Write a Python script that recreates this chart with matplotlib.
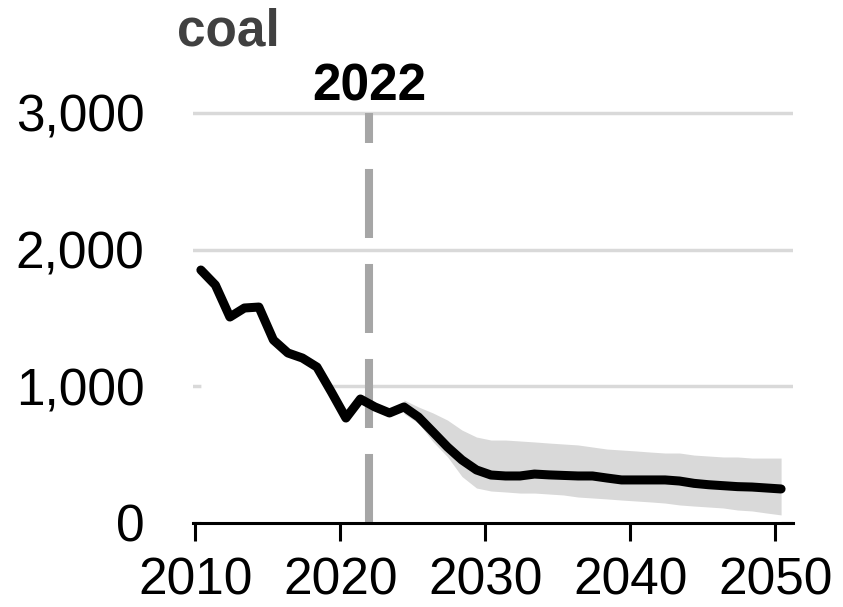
import matplotlib
matplotlib.use("Agg")
import matplotlib.pyplot as plt
import numpy as np

plt.rcParams["font.family"] = ["Liberation Sans", "DejaVu Sans"]

# coal, historical + projection (median) with a range band
years = list(range(2010, 2051))
coal = [1851, 1741, 1507, 1573, 1580, 1339, 1244, 1207, 1141, 958,
        768, 907, 849, 805, 849, 775, 666, 556, 461, 388,
        351, 344, 344, 358, 352, 348, 344, 344, 329, 315,
        315, 315, 315, 307, 290, 280, 273, 266, 263, 256,
        249]

band_years = list(range(2024, 2051))
band_high = [900, 849, 805, 753, 680, 629, 607, 607, 600, 593,
             585, 578, 571, 556, 541, 534, 527, 519, 512, 512,
             497, 490, 483, 483, 475, 475, 475]
band_low = [800, 730, 595, 485, 340, 256, 234, 227, 219, 219,
            212, 205, 190, 183, 176, 168, 161, 154, 146, 132,
            124, 117, 110, 95, 88, 73, 59]

x_ticks = [2010, 2020, 2030, 2040, 2050]
y_ticks = [0, 1000, 2000, 3000]
marker_year = 2022

# values sit a bit right of the year tick in the source chart
x_shift = 0.4

fig = plt.figure(figsize=(8.43, 6.07), dpi=100)
ax = fig.add_axes([0.229, 0.1384, 0.712, 0.698])

x = np.array(years) + x_shift
bx = np.array(band_years) + x_shift

ax.fill_between(x, 0, coal, color="white", zorder=1.5, linewidth=0)
ax.fill_between(bx, band_low, band_high, color="#d9d9d9", linewidth=0, zorder=2)
ax.plot([marker_year, marker_year], [0, 3000], color="#a6a6a6", lw=5.8,
        dashes=(49.7 / 5.8, 18.7 / 5.8), solid_capstyle="butt", zorder=3)
ax.plot(x, coal, color="black", lw=6.5, solid_capstyle="round",
        solid_joinstyle="round", zorder=4)

ax.text(marker_year, 3094, str(marker_year), ha="center", va="baseline",
        fontsize=37, fontweight="bold", color="black", clip_on=False)
fig.text(177 / 843, 1 - 46 / 607, "coal", ha="left", va="baseline",
         fontsize=37, fontweight="bold", color="#404040")

ax.set_xlim(2009.86, 2051.24)
ax.set_ylim(0, 3100)
ax.set_xticks(x_ticks)
ax.set_yticks(y_ticks)
ax.set_yticklabels([f"{v:,}" for v in y_ticks])

ax.yaxis.grid(True, color="#d9d9d9", lw=2.5)
ax.set_axisbelow(True)
for side in ["top", "right", "left"]:
    ax.spines[side].set_visible(False)
ax.spines["bottom"].set_linewidth(2.2)
ax.spines["bottom"].set_zorder(5)
ax.tick_params(axis="x", length=13, width=2.2, pad=11, labelsize=37)
ax.tick_params(axis="y", length=0, pad=35, labelsize=37)

fig.savefig("out.png", dpi=100)
plt.close(fig)
